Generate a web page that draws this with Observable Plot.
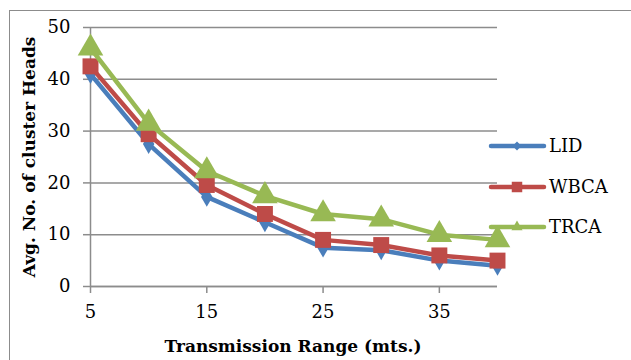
<!DOCTYPE html>
<html>
<head>
<meta charset="utf-8">
<script src="https://cdn.jsdelivr.net/npm/d3@7"></script>
<script src="https://cdn.jsdelivr.net/npm/@observablehq/plot@0.6"></script>
<style>
  html, body { margin: 0; padding: 0; background: #fff; overflow: hidden; }
  #wrap { position: relative; width: 631px; height: 360px; overflow: hidden; }
  #border { position: absolute; left: 9px; top: 10px; width: 700px; height: 400px; border: 1.5px solid #8c8c8c; }
  #wrap svg { position: absolute; left: 0; top: 0; }
</style>
</head>
<body>
<div id="wrap"><div id="border"></div></div>
<script>
const ranges = [5, 10, 15, 20, 25, 30, 35, 40];
const seriesNames = ["LID", "WBCA", "TRCA"];
const lid  = [41, 27.5, 17.3, 12.4, 7.5, 7, 5, 4];
const wbca = [42.5, 29.4, 19.6, 14, 9, 8, 6, 5];
const trca = [46, 31.5, 22.3, 17.5, 14, 13, 10, 9];
const yTicks = [0, 10, 20, 30, 40, 50];
const xTicks = [5, 15, 25, 35];
const colors = ["#4a7ebb", "#be4b48", "#98b954"];
const symbols = ["diamond", "square", "triangle"];
const markerR = [6, 9, 9.5];

const values = [lid, wbca, trca];
const data = [];
seriesNames.forEach((s, i) => ranges.forEach((x, j) => data.push({series: s, x, y: values[i][j]})));

const FONT = "DejaVu Serif";
const gridColor = "#8c8c8c";
const marks = [
  Plot.gridY(yTicks, {stroke: gridColor, strokeOpacity: 1, strokeWidth: 1.5}),
  Plot.axisY(yTicks, {tickSize: 7, tickPadding: 13, stroke: gridColor, strokeWidth: 1.5, fill: "black", fontSize: 18, fontFamily: FONT, label: null}),
  Plot.axisX(xTicks, {tickSize: 7, tickPadding: 12, stroke: gridColor, strokeWidth: 1.5, fill: "black", fontSize: 18, fontFamily: FONT, label: null}),
  Plot.ruleX([5], {y1: 0, y2: 50, stroke: gridColor, strokeWidth: 1.5}),
  Plot.ruleY([0], {stroke: gridColor, strokeWidth: 1.5})
];
seriesNames.forEach((s, i) => {
  const d = data.filter(r => r.series === s);
  marks.push(Plot.line(d, {x: "x", y: "y", stroke: colors[i], strokeWidth: 4.5}));
  marks.push(Plot.dot(d, {x: "x", y: "y", fill: colors[i], symbol: symbols[i], r: markerR[i], stroke: "none"}));
});

const chart = Plot.plot({
  width: 631, height: 360,
  marginLeft: 90, marginRight: 134, marginTop: 27, marginBottom: 74,
  x: {domain: [5, 40]},
  y: {domain: [0, 50]},
  style: {fontFamily: FONT, fontSize: "18px", color: "black", background: "transparent"},
  marks
});
const wrap = document.getElementById("wrap");
wrap.appendChild(chart);

// axis titles and legend
const svg = d3.select(wrap).append("svg").attr("width", 631).attr("height", 360)
  .style("font-family", FONT);
svg.append("text").attr("x", 293).attr("y", 352).attr("text-anchor", "middle")
  .attr("font-weight", "bold").attr("font-size", 17).text("Transmission Range (mts.)");
svg.append("text").attr("transform", "translate(35,157) rotate(-90)").attr("text-anchor", "middle")
  .attr("font-weight", "bold").attr("font-size", 17).text("Avg. No. of cluster Heads");

const legendY = [146, 187, 227];
const legSym = [d3.symbolDiamond2, d3.symbolSquare, d3.symbolTriangle2];
const legSize = [50, 110, 90];
seriesNames.forEach((s, i) => {
  const g = svg.append("g").attr("transform", `translate(0,${legendY[i]})`);
  g.append("line").attr("x1", 491).attr("x2", 544).attr("stroke", colors[i]).attr("stroke-width", 4.5).attr("stroke-linecap", "round");
  g.append("path").attr("transform", "translate(517,0)").attr("d", d3.symbol(legSym[i], legSize[i])()).attr("fill", colors[i]);
  g.append("text").attr("x", 549).attr("y", 0).attr("dy", "0.35em").attr("font-size", 18).text(s);
});
</script>
</body>
</html>
